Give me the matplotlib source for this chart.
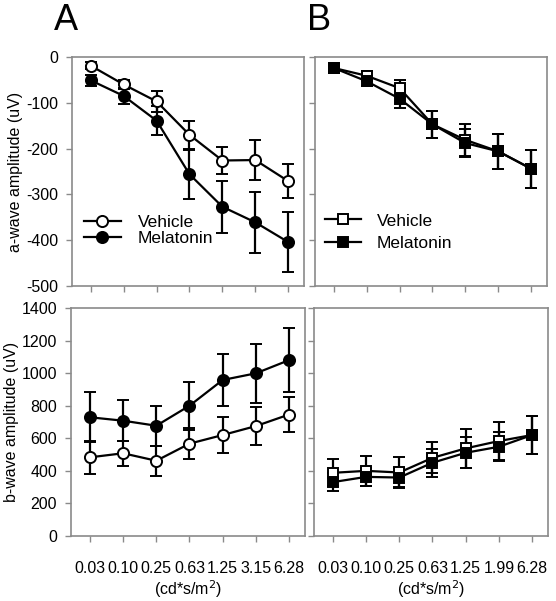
import numpy as np
import matplotlib
matplotlib.use("Agg")
import matplotlib.pyplot as plt

plt.rcParams['font.family'] = ['Liberation Sans', 'DejaVu Sans']

# light intensities (cd*s/m2)
doses_a = ["0.03", "0.10", "0.25", "0.63", "1.25", "3.15", "6.28"]
doses_b = ["0.03", "0.10", "0.25", "0.63", "1.25", "1.99", "6.28"]

# panel A, a-wave
a_veh_A = [-19, -60, -97, -170, -226, -225, -271]
a_veh_A_err = [8, 9, 23, 31, 29, 44, 37]
a_mel_A = [-51, -85, -139, -256, -327, -361, -404]
a_mel_A_err = [12, 17, 31, 54, 57, 66, 66]

# panel B, a-wave
a_veh_B = [-24, -41, -68, -147, -181, -206, -244]
a_veh_B_err = [6, 10, 18, 30, 35, 38, 42]
a_mel_B = [-24, -53, -91, -147, -188, -206, -244]
a_mel_B_err = [6, 10, 21, 30, 30, 38, 42]

# panel A, b-wave
b_veh_A = [483, 508, 462, 567, 620, 675, 746]
b_veh_A_err = [100, 78, 92, 96, 112, 119, 105]
b_mel_A = [729, 708, 677, 800, 958, 999, 1080]
b_mel_A_err = [153, 127, 123, 148, 160, 180, 198]

# panel B, b-wave
b_veh_B = [388, 400, 390, 480, 538, 583, 620]
b_veh_B_err = [82, 93, 93, 95, 119, 117, 117]
b_mel_B = [331, 363, 359, 450, 511, 548, 620]
b_mel_B_err = [54, 55, 61, 87, 96, 88, 117]

W, H = 556, 601
fig = plt.figure(figsize=(W / 100, H / 100), dpi=100)


def px_axes(x0, y0, x1, y1):
    return fig.add_axes([x0 / W, 1 - y1 / H, (x1 - x0) / W, (y1 - y0) / H])


axA1 = px_axes(72, 57, 304, 286)
axB1 = px_axes(315, 57, 547, 286)
axA2 = px_axes(71, 308, 305, 536)
axB2 = px_axes(314, 308, 548, 536)

fs = 11.5
gray = '#8a8a8a'


def series(ax, y, err, marker, fill, label, ms):
    x = np.arange(len(y))
    ax.errorbar(x, y, yerr=err, color='black', lw=1.6, elinewidth=1.6,
                capsize=4, capthick=1.6, marker=marker, ms=ms,
                mfc=fill, mec='black', mew=1.4, label=label, zorder=3)


def style(ax, ylim, yticks, labels, xlabels=None):
    ax.set_xlim(-0.57, 6.48)
    ax.set_ylim(*ylim)
    ax.set_yticks(yticks)
    ax.set_xticks(range(7))
    for s in ax.spines.values():
        s.set_color(gray)
        s.set_linewidth(1.2)
    ax.tick_params(direction='out', length=4, width=1.0, color=gray,
                   labelsize=fs)
    ax.tick_params(axis='y', pad=6)
    if labels:
        ax.set_yticklabels([str(v) for v in yticks])
    else:
        ax.set_yticklabels([])
    if xlabels:
        ax.set_xticklabels(xlabels, fontsize=fs)
        ax.tick_params(axis='x', pad=14)
        ax.set_xlabel('(cd*s/m$^2$)', fontsize=fs, labelpad=2)
    else:
        ax.set_xticklabels([])


series(axA1, a_veh_A, a_veh_A_err, 'o', 'white', 'Vehicle', 8)
series(axA1, a_mel_A, a_mel_A_err, 'o', 'black', 'Melatonin', 8)
series(axB1, a_veh_B, a_veh_B_err, 's', 'white', 'Vehicle', 7)
series(axB1, a_mel_B, a_mel_B_err, 's', 'black', 'Melatonin', 7)
series(axA2, b_veh_A, b_veh_A_err, 'o', 'white', 'Vehicle', 8)
series(axA2, b_mel_A, b_mel_A_err, 'o', 'black', 'Melatonin', 8)
series(axB2, b_veh_B, b_veh_B_err, 's', 'white', 'Vehicle', 7)
series(axB2, b_mel_B, b_mel_B_err, 's', 'black', 'Melatonin', 7)

style(axA1, (-500, 0), range(-500, 1, 100), True)
style(axB1, (-500, 0), range(-500, 1, 100), False)
style(axA2, (0, 1400), range(0, 1401, 200), True, doses_a)
style(axB2, (0, 1400), range(0, 1401, 200), False, doses_b)

axA1.set_ylabel('a-wave amplitude (uV)', fontsize=fs, labelpad=2)
axA2.set_ylabel('b-wave amplitude (uV)', fontsize=fs, labelpad=2)

# legends: (axes, x, y, row spacing, text gap)
for ax, lx, ly, sp, gap in [(axA1, 0.052, 0.242, 0.02, 1.0),
                            (axB1, 0.043, 0.234, 0.45, 0.9)]:
    h, l = ax.get_legend_handles_labels()
    h = [hh[0] for hh in h]
    ax.legend(h, l, loc='center left', bbox_to_anchor=(lx, ly), frameon=False,
              fontsize=fs + 1, handlelength=2.1, handletextpad=gap,
              labelspacing=sp, borderaxespad=0, borderpad=0)

fig.text(54 / W, 1 - 20 / H, 'A', fontsize=26, va='center', ha='left')
fig.text(307 / W, 1 - 20 / H, 'B', fontsize=26, va='center', ha='left')

fig.savefig('out.png', dpi=100)
